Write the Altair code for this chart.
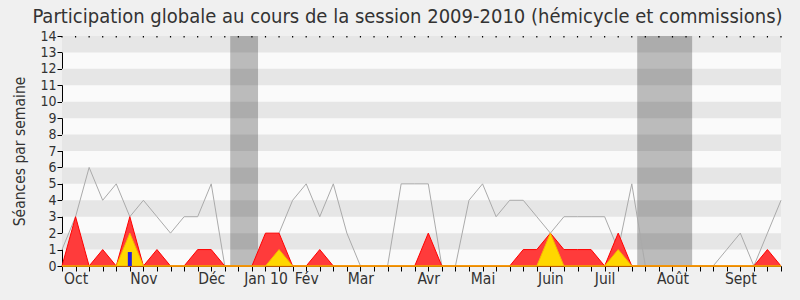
import altair as alt
import pandas as pd

# ---- data ----
weeks = list(range(54))
total = [1, 3, 6, 4, 5, 3, 4, 3, 2, 3, 3, 5, 0, 0, 0, 0, 2, 4, 5, 3,
         5, 2, 0, 0, 0, 5, 5, 5, 0, 0, 4, 5, 3, 4, 4, 3, 2, 3, 3, 3,
         3, 1, 5, 0, 0, 0, 0, 0, 0, 1, 2, 0, 2, 4]
presence = [0, 3, 0, 1, 0, 3, 0, 1, 0, 0, 1, 1, 0, 0, 0, 2, 2, 0, 0, 1,
            0, 0, 0, 0, 0, 0, 0, 2, 0, 0, 0, 0, 0, 0, 1, 1, 2, 1, 1, 1,
            0, 2, 0, 0, 0, 0, 0, 0, 0, 0, 0, 0, 1, 0]
participation = [0, 0, 0, 0, 0, 2, 0, 0, 0, 0, 0, 0, 0, 0, 0, 0, 1, 0, 0, 0,
                 0, 0, 0, 0, 0, 0, 0, 0, 0, 0, 0, 0, 0, 0, 0, 0, 2, 0, 0, 0,
                 0, 1, 0, 0, 0, 0, 0, 0, 0, 0, 0, 0, 0, 0]
interventions = [0, 0, 0, 0, 0, 0.85, 0, 0, 0, 0, 0, 0, 0, 0, 0, 0, 0, 0, 0, 0,
                 0, 0, 0, 0, 0, 0, 0, 0, 0, 0, 0, 0, 0, 0, 0, 0, 0, 0, 0, 0,
                 0, 0, 0, 0, 0, 0, 0, 0, 0, 0, 0, 0, 0, 0]

month_pos = [1, 6, 11, 15, 18, 22, 27, 31, 36, 40, 45, 50]
month_names = ["Oct", "Nov", "Déc", "Jan 10", "Fév", "Mar", "Avr", "Mai",
               "Juin", "Juil", "Août", "Sept"]

vac_start = [12.4, 42.4]
vac_end = [14.45, 46.45]

band_lo = [1, 3, 5, 7, 9, 11, 13]
band_hi = [2, 4, 6, 8, 10, 12, 14]

df = pd.DataFrame({"week": weeks, "total": total, "presence": presence,
                   "participation": participation, "interventions": interventions})
vac = pd.DataFrame({"start": vac_start, "end": vac_end})
bands = pd.DataFrame({"lo": band_lo, "hi": band_hi})

FONT = "DejaVu Sans Condensed"

pos_list = "[" + ",".join(str(p) for p in month_pos) + "]"
name_list = "[" + ",".join("'" + n + "'" for n in month_names) + "]"
label_expr = (f"indexof({pos_list}, datum.value) >= 0 ? "
              f"{name_list}[indexof({pos_list}, datum.value)] : ''")

xscale = alt.Scale(domain=[0, 53], nice=False, zero=False, padding=0)
yscale = alt.Scale(domain=[0, 14], nice=False, padding=0)

x_axis = alt.Axis(values=weeks, labelExpr=label_expr, title=None, grid=False,
                  tickSize=5, tickColor="black", domainColor="black",
                  labelFontSize=15.5, labelColor="#333333", labelFont=FONT,
                  labelOverlap=False, labelFlush=False, labelPadding=0)
y_axis = alt.Axis(values=list(range(15)), title="Séances par semaine", grid=False,
                  tickSize=5, tickColor="black", domainColor="black",
                  labelFontSize=14, labelColor="#333333", labelFont=FONT,
                  labelOverlap=False, labelFlush=False,
                  titleFont=FONT, titleFontSize=15.5, titleFontWeight="normal",
                  titleColor="#333333", labelPadding=1, titlePadding=12)


def X(field):
    return alt.X(field, scale=xscale, axis=x_axis)


def Y(field):
    return alt.Y(field, scale=yscale, axis=y_axis)


base = alt.Chart(df)

band_layer = alt.Chart(bands).mark_rect(color="#e6e6e6").encode(
    x=alt.value(0), x2=alt.value("width"),
    y=Y("lo:Q"), y2="hi:Q")

vac_layer = alt.Chart(vac).mark_rect(color="black", opacity=0.25).encode(
    x=X("start:Q"), x2="end:Q",
    y=alt.value(0), y2=alt.value("height"))

top_ticks = base.mark_rule(color="black", strokeWidth=1.2).encode(
    x=X("week:Q"), y=alt.value(0), y2=alt.value(1.5))

total_line = base.mark_line(color="#aaaaaa", strokeWidth=1).encode(
    x=X("week:Q"), y=Y("total:Q"))

red_area = base.mark_area(fill="#ff3b3b", stroke="#ff0000", strokeWidth=1,
                          interpolate="linear").encode(
    x=X("week:Q"), y=Y("presence:Q"))

yellow_area = base.mark_area(fill="#ffd700", stroke="#f5b800", strokeWidth=1,
                             interpolate="linear").encode(
    x=X("week:Q"), y=Y("participation:Q"))

blue_bars = base.mark_bar(color="#2020dd", width=4).encode(
    x=X("week:Q"), y=Y("interventions:Q"))

chart = alt.layer(band_layer, vac_layer, total_line, red_area, yellow_area,
                  blue_bars, top_ticks).properties(
    width=719, height=230,
    title=alt.TitleParams(
        "Participation globale au cours de la session 2009-2010 (hémicycle et commissions)",
        font=FONT, fontSize=20, fontWeight="normal", color="#333333",
        anchor="middle", dx=-14, offset=2),
    autosize=alt.AutoSizeParams(type="none"),
    padding={"left": 62, "top": 36, "right": 19, "bottom": 34},
    background="#f0f0f0",
).configure_view(fill="#fafafa", strokeWidth=0)

chart.save("out.html", embed_options={"renderer": "svg", "actions": False})
